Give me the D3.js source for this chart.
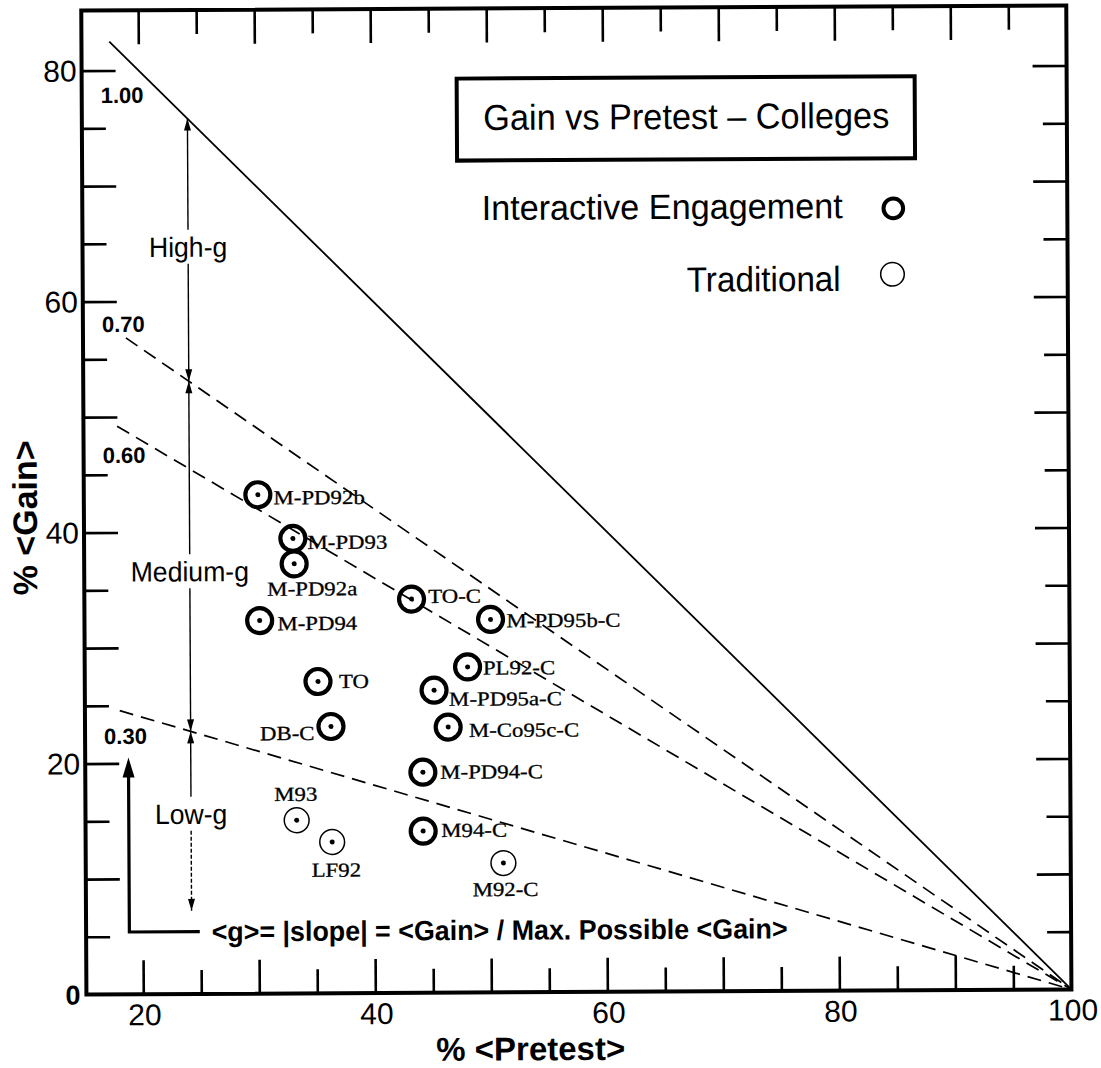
<!DOCTYPE html>
<html>
<head>
<meta charset="utf-8">
<script src="https://cdn.jsdelivr.net/npm/d3@7"></script>
<style>
  body { margin: 0; background: #fff; }
  text { font-family: "Liberation Sans", Arial, Helvetica, sans-serif; fill: #000; }
  .lbl { font-family: "Liberation Serif", "Times New Roman", serif; font-size: 20px; stroke: #000; stroke-width: 0.3px; }
</style>
</head>
<body>
<svg id="chart"></svg>
<script>
// Interactive engagement courses (thick circles)
const ieNames   = ["M-PD92b", "M-PD93", "M-PD92a", "M-PD94", "TO-C", "M-PD95b-C", "PL92-C", "TO", "M-PD95a-C", "DB-C", "M-Co95c-C", "M-PD94-C", "M94-C"];
const iePretest = [30.1, 33.1, 33.2, 30.2, 43.3, 50.1, 48.1, 35.2, 45.2, 36.3, 46.4, 44.2, 44.2];
const ieGain    = [43.2, 39.4, 37.2, 32.3, 34.1, 32.3, 28.2, 27.0, 26.2, 23.1, 23.0, 19.1, 14.0];

// Traditional courses (thin circles)
const tradNames   = ["M93", "LF92", "M92-C"];
const tradPretest = [33.3, 36.35, 51.1];
const tradGain    = [15.0, 13.1, 11.2];

// constant <g> lines, all ending at (100, 0)
const gValues    = [1.00, 0.70, 0.60, 0.30];
const gLabels    = ["1.00", "0.70", "0.60", "0.30"];
const gLineStart = [17.5, 18.8, 18.0, 18.1];

// bands
const bandNames = ["High-g", "Medium-g", "Low-g"];
const bandTop   = [1.00, 0.70, 0.30];
const bandBot   = [0.70, 0.30, null];

const xTickLabels = [20, 40, 60, 80, 100];
const yTickLabels = [20, 40, 60, 80];

const titleText   = "Gain vs Pretest \u2013 Colleges";
const formulaText = "<g>= |slope| = <Gain> / Max. Possible <Gain>";

// ---- layout / style ----
const width = 1101, height = 1068;
const plot = { left: 84, right: 1069, top: 8, bottom: 992 };

const svg = d3.select("#chart").attr("width", width).attr("height", height);
// the scanned figure sits a little tilted
const root = svg.append("g").attr("transform", "rotate(-0.3, 576, 530)");

const x = d3.scaleLinear().domain([15.1, 100]).range([plot.left, plot.right]);
const y = d3.scaleLinear().domain([0, 85.2]).range([plot.bottom, plot.top]);

// stretch a text node to factor * natural width, keeping its anchor
function fit(t, factor, anchor) {
  const node = t.node();
  const w = node.getComputedTextLength() * factor;
  t.attr("textLength", w).attr("lengthAdjust", "spacingAndGlyphs");
  const x0 = +t.attr("x");
  if (anchor === "middle") t.attr("x", x0 - w / 2);
  if (anchor === "end") t.attr("x", x0 - w);
  return t;
}

// ---- ticks (inward, long on tens) ----
const xTickVals = d3.range(20, 100, 5);
const yTickVals = d3.range(5, 85, 5);
const longT = 34, shortT = 24;
const tickLen = d => (d % 10 === 0 ? longT : shortT);

function tickAxis(axis, transform, sign) {
  const a = root.append("g").attr("transform", transform)
    .call(axis.tickSize(-longT).tickFormat(""));
  a.select(".domain").remove();
  a.selectAll(".tick line")
    .attr("stroke", "#000").attr("stroke-width", 2.6)
    .each(function (d) {
      const l = d3.select(this);
      if (l.attr("y2") !== null) l.attr("y2", sign * tickLen(d));
      if (l.attr("x2") !== null) l.attr("x2", sign * tickLen(d));
    });
}
tickAxis(d3.axisBottom(x).tickValues(xTickVals), `translate(0,${plot.bottom})`, -1);
tickAxis(d3.axisTop(x).tickValues(xTickVals), `translate(0,${plot.top})`, 1);
tickAxis(d3.axisLeft(y).tickValues(yTickVals), `translate(${plot.left},0)`, 1);
tickAxis(d3.axisRight(y).tickValues(yTickVals), `translate(${plot.right},0)`, -1);

// frame
root.append("rect")
  .attr("x", plot.left).attr("y", plot.top)
  .attr("width", plot.right - plot.left).attr("height", plot.bottom - plot.top)
  .attr("fill", "none").attr("stroke", "#000").attr("stroke-width", 4);

// tick labels
root.selectAll(".xl").data(xTickLabels).enter().append("text")
  .attr("x", d => x(d) + 1.5).attr("y", plot.bottom + 31)
  .attr("text-anchor", "middle").attr("font-size", 30)
  .text(d => d);
root.selectAll(".yl").data(yTickLabels).enter().append("text")
  .attr("x", plot.left - 5).attr("y", d => y(d)).attr("dy", "0.36em")
  .attr("text-anchor", "end").attr("font-size", 30)
  .text(d => d);
root.append("text")
  .attr("x", plot.left - 6).attr("y", y(0)).attr("dy", "0.36em")
  .attr("text-anchor", "end").attr("font-size", 27).attr("font-weight", "bold")
  .text("0");

// axis titles
root.append("text")
  .attr("x", 528).attr("y", 1060)
  .attr("text-anchor", "middle").attr("font-size", 33).attr("font-weight", "bold")
  .text("% <Pretest>");
root.append("text")
  .attr("transform", "translate(37,515) rotate(-90)")
  .attr("text-anchor", "middle").attr("font-size", 34).attr("font-weight", "bold")
  .text("% <Gain>");

// ---- <g> lines ----
const line = d3.line().x(d => x(d[0])).y(d => y(d[1]));
gValues.forEach((gv, i) => {
  const x0 = gLineStart[i];
  root.append("path")
    .attr("d", line([[x0, gv * (100 - x0)], [100, 0]]))
    .attr("fill", "none").attr("stroke", "#000")
    .attr("stroke-width", gv === 1 ? 1.8 : 1.7)
    .attr("stroke-dasharray", gv === 1 ? null : "14,8");
});
const gLabelY = [100.5, 329.5, 460.5, 741.5];
gLabels.forEach((s, i) => {
  root.append("text")
    .attr("x", 103).attr("y", gLabelY[i])
    .attr("font-size", 22).attr("font-weight", "bold")
    .text(s);
});

// ---- band arrows ----
function head(xt, yt, dir, len, hw) {
  // dir -1: tip points up, +1: tip points down
  const yb = yt - dir * len;
  root.append("path")
    .attr("d", `M${xt},${yt}L${xt - hw},${yb}L${xt + hw},${yb}Z`)
    .attr("fill", "#000");
}
const bandX = 24.2;
const bandTextGain = [64.7, 36.6, 15.6];
const lowBandEnd = 7.2;
const gap = 17;
bandNames.forEach((name, i) => {
  const xa = x(bandX);
  const yTop = y(bandTop[i] * (100 - bandX));
  const yBot = bandBot[i] === null ? y(lowBandEnd) : y(bandBot[i] * (100 - bandX));
  const yc = y(bandTextGain[i]);
  root.append("line").attr("x1", xa).attr("x2", xa)
    .attr("y1", yTop).attr("y2", yc - gap)
    .attr("stroke", "#000").attr("stroke-width", 1.4);
  root.append("line").attr("x1", xa).attr("x2", xa)
    .attr("y1", yc + gap).attr("y2", yBot)
    .attr("stroke", "#000").attr("stroke-width", 1.4)
    .attr("stroke-dasharray", bandBot[i] === null ? "4,2" : null);
  head(xa, yTop, -1, 12, 3.5);
  head(xa, yBot, 1, 12, 3.5);
  const t = root.append("text")
    .attr("x", xa).attr("y", yc + 10)
    .attr("font-size", 28)
    .text(name);
  fit(t, 0.95, "middle");
});

// ---- thick L arrow and formula ----
const lArrow = { x: 18.83, top: 20.5, corner: 5.4, end: 24.9 };
root.append("path")
  .attr("d", `M${x(lArrow.end)},${y(lArrow.corner)}H${x(lArrow.x)}V${y(lArrow.top) + 16}`)
  .attr("fill", "none").attr("stroke", "#000").attr("stroke-width", 3.2);
head(x(lArrow.x), y(lArrow.top), -1, 20, 6);
root.append("text")
  .attr("x", 209.5).attr("y", 939.4)
  .attr("font-size", 28).attr("font-weight", "bold")
  .attr("textLength", 576).attr("lengthAdjust", "spacingAndGlyphs")
  .text(formulaText);

// ---- legend ----
root.append("rect")
  .attr("x", 459).attr("y", 78).attr("width", 458).attr("height", 82)
  .attr("fill", "none").attr("stroke", "#000").attr("stroke-width", 4);
root.append("text")
  .attr("x", 485.4).attr("y", 129.5).attr("font-size", 36)
  .attr("textLength", 406).attr("lengthAdjust", "spacingAndGlyphs")
  .text(titleText);
root.append("text")
  .attr("x", 483.3).attr("y", 219.5).attr("font-size", 35)
  .attr("textLength", 361).attr("lengthAdjust", "spacingAndGlyphs")
  .text("Interactive Engagement");
root.append("circle").attr("cx", 895).attr("cy", 210).attr("r", 9.8)
  .attr("fill", "none").attr("stroke", "#000").attr("stroke-width", 4);
root.append("text")
  .attr("x", 688).attr("y", 292.3).attr("font-size", 35)
  .attr("textLength", 154).attr("lengthAdjust", "spacingAndGlyphs")
  .text("Traditional");
root.append("circle").attr("cx", 893.8).attr("cy", 275.9).attr("r", 11.8)
  .attr("fill", "none").attr("stroke", "#000").attr("stroke-width", 1.5);

// ---- points ----
const ieData = ieNames.map((n, i) => ({ name: n, x: iePretest[i], y: ieGain[i], ie: true }));
const tradData = tradNames.map((n, i) => ({ name: n, x: tradPretest[i], y: tradGain[i], ie: false }));
const allData = ieData.concat(tradData);

// label placement: anchor, dx, dy (baseline) in px from the point
const labelPlacement = {
  "M-PD92b":   ["start", 15.7, 9.7],
  "M-PD93":    ["start", 14.6, 10.7],
  "M-PD92a":   ["middle", 18, 31.7],
  "M-PD94":    ["start", 17.7, 9.7],
  "TO-C":      ["start", 16.7, 4],
  "M-PD95b-C": ["start", 16, 8],
  "PL92-C":    ["start", 15.3, 7.7],
  "TO":        ["start", 21, 6.7],
  "M-PD95a-C": ["start", 15, 15.7],
  "DB-C":      ["end", -16.6, 13.3],
  "M-Co95c-C": ["start", 20.7, 10],
  "M-PD94-C":  ["start", 17.4, 6.6],
  "M94-C":     ["start", 18, 6],
  "M93":       ["middle", -0.7, -19.3],
  "LF92":      ["middle", 4, 34.7],
  "M92-C":     ["middle", 2, 33]
};

const pts = root.selectAll(".pt").data(allData).enter().append("g")
  .attr("class", "pt")
  .attr("transform", d => `translate(${x(d.x)},${y(d.y)})`);
pts.append("circle")
  .attr("r", d => (d.ie ? 12.5 : 12.4))
  .attr("fill", "none").attr("stroke", "#000")
  .attr("stroke-width", d => (d.ie ? 4.2 : 1.5));
pts.append("circle").attr("r", 2.5).attr("fill", "#000");

allData.forEach(d => {
  const [anchor, dx, dy] = labelPlacement[d.name];
  const t = root.append("text").attr("class", "lbl")
    .attr("x", x(d.x) + dx).attr("y", y(d.y) + dy)
    .text(d.name);
  fit(t, 1.14, anchor);
});
</script>
</body>
</html>
